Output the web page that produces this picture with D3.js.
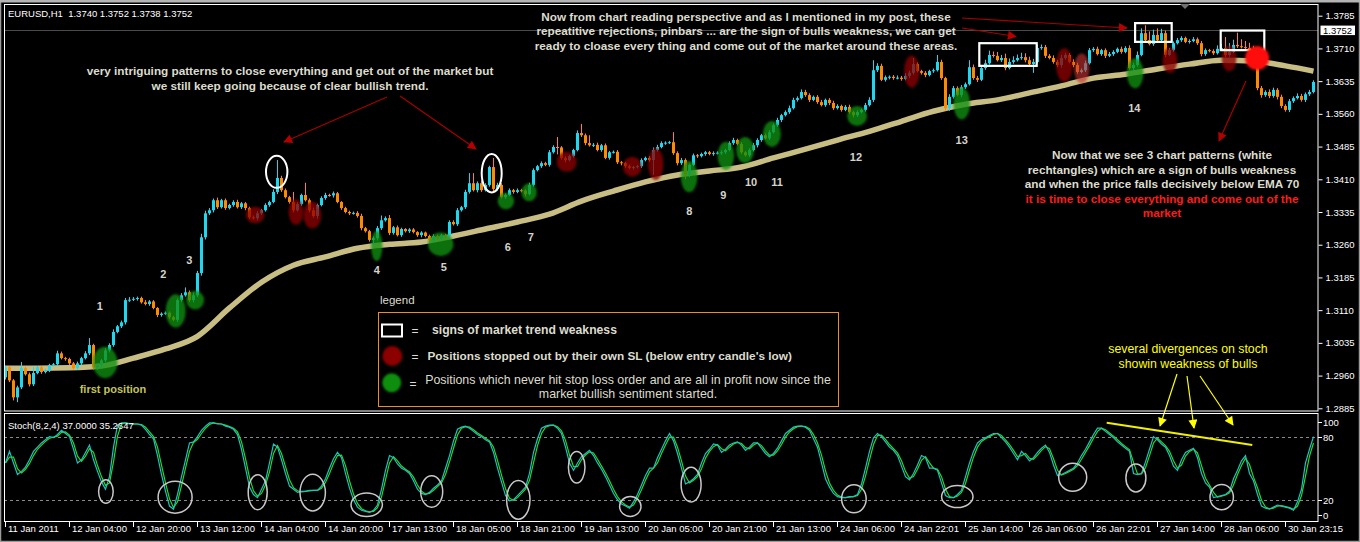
<!DOCTYPE html>
<html><head><meta charset="utf-8">
<script src="https://cdn.jsdelivr.net/npm/d3@7"></script>
<style>html,body{margin:0;padding:0;background:#000;}svg{display:block;}</style>
</head><body>
<svg id="c" width="1360" height="542"></svg>
<script>
// ---------------- DATA ----------------
const timeLabels = ["11 Jan 2011","12 Jan 04:00","12 Jan 20:00","13 Jan 12:00","14 Jan 04:00","14 Jan 20:00","17 Jan 13:00","18 Jan 05:00","18 Jan 21:00","19 Jan 13:00","20 Jan 05:00","20 Jan 21:00","21 Jan 13:00","24 Jan 06:00","24 Jan 22:01","25 Jan 14:00","26 Jan 06:00","26 Jan 22:01","27 Jan 14:00","28 Jan 06:00","30 Jan 23:15"];
const priceTicks = [1.3785,1.3710,1.3635,1.3560,1.3485,1.3410,1.3335,1.3260,1.3185,1.3110,1.3035,1.2960,1.2885];
const stochLevels = [80,20];
const stochTickLabels = [100,80,20,0];
const bidPrice = 1.3752;
const firstOpen = 12956;               // price x 10000
const closes = [                        // price x 10000, one per H1 bar
12979,12949,12910,12933,12977,12963,12940,12966,12979,12968,12972,12984,12986,13011,13000,12998,
12988,12977,12988,13000,13011,13030,12979,12984,12995,13018,13030,13060,13073,13082,13133,13134,
13136,13138,13128,13124,13130,13115,13099,13102,13104,13094,13088,13133,13144,13151,13133,13144,
13195,13277,13332,13339,13362,13346,13362,13344,13351,13358,13346,13355,13344,13323,13321,13332,
13339,13351,13358,13381,13413,13385,13369,13358,13339,13353,13374,13362,13339,13326,13351,13367,
13374,13373,13378,13358,13344,13335,13332,13333,13326,13298,13291,13271,13275,13298,13316,13321,
13287,13300,13282,13296,13291,13295,13289,13282,13288,13280,13271,13280,13275,13282,13280,13312,
13307,13339,13346,13381,13401,13385,13401,13385,13397,13438,13388,13397,13369,13374,13385,13381,
13385,13384,13376,13397,13431,13440,13447,13443,13472,13484,13483,13459,13454,13463,13477,13516,
13511,13493,13488,13489,13477,13488,13459,13472,13473,13449,13447,13440,13436,13438,13440,13454,
13459,13454,13477,13484,13493,13494,13495,13470,13447,13454,13420,13443,13465,13463,13468,13472,
13468,13470,13471,13472,13477,13493,13500,13491,13472,13465,13477,13488,13500,13511,13504,13518,
13534,13546,13557,13564,13573,13592,13596,13610,13603,13592,13599,13587,13580,13592,13585,13573,
13578,13569,13576,13564,13557,13564,13569,13580,13592,13660,13670,13638,13644,13645,13642,13643,
13640,13647,13654,13674,13658,13654,13649,13658,13660,13679,13642,13573,13599,13619,13603,13621,
13628,13667,13642,13638,13665,13676,13695,13693,13683,13688,13665,13679,13683,13688,13690,13683,
13674,13679,13711,13713,13693,13688,13679,13672,13688,13695,13679,13672,13656,13660,13676,13706,
13709,13697,13706,13693,13697,13702,13709,13702,13711,13665,13672,13695,13745,13729,13720,13741,
13729,13745,13695,13706,13722,13729,13734,13725,13727,13731,13722,13697,13706,13704,13699,13709,
13711,13695,13702,13718,13715,13713,13711,13706,13702,13619,13603,13610,13601,13615,13599,13578,
13569,13589,13596,13601,13592,13605,13610,13633];
const upperWick = [                     // pips above body
4,3,3,4,14,3,4,14,3,3,4,3,3,6,4,3, 3,3,4,3,5,16,3,4,3,5,4,6,3,4,5,6,
4,3,3,5,3,3,2,3,3,3,3,4,5,11,4,6, 5,8,6,5,4,6,3,4,3,4,5,3,3,3,4,5,
3,4,3,6,41,5,4,3,23,4,3,28,4,6,3,4, 5,3,4,3,2,3,3,3,4,5,3,3,4,5,11,4,
7,3,4,3,2,3,3,2,3,2,3,4,3,3,3,4, 4,5,3,5,23,23,4,6,4,3,21,5,4,3,4,3,
4,3,3,5,4,3,4,3,5,4,23,3,4,3,3,6, 21,4,18,4,5,3,4,3,3,4,3,3,4,3,3,4,
3,4,6,5,4,3,3,23,4,5,4,3,4,3,3,3, 3,4,3,4,3,4,5,3,4,3,4,5,4,3,4,5,
4,5,3,4,6,5,4,6,5,4,3,4,5,3,4,5, 4,3,4,5,3,4,3,5,6,23,6,5,4,3,4,5,
4,6,5,14,4,3,4,3,4,16,5,3,6,5,4,5, 4,16,6,5,6,8,10,8,9,7,10,8,9,8,10,9,
8,7,8,6,5,4,6,5,7,5,4,6,5,4,6,5, 4,5,3,4,5,4,3,5,4,6,5,8,11,18,20,12,
15,10,6,5,4,5,4,3,4,5,4,5,4,3,4,8, 10,25,20,12,28,16,14,12,10,4,5,4,6,5,4,5,
4,5,4,6,5,4,5,4];
const lowerWick = [                     // pips below body
5,4,7,11,4,3,5,4,3,4,3,4,3,4,3,4, 4,3,3,4,3,4,5,6,5,4,5,4,3,4,5,4,
3,4,3,3,4,3,5,4,3,4,3,5,4,3,4,5, 4,6,5,4,5,4,3,4,3,4,3,4,5,4,3,5,
4,3,4,3,5,4,3,4,5,3,4,3,5,4,6,3, 4,3,5,3,4,3,4,3,4,5,3,4,12,5,4,3,
5,4,3,4,3,4,3,4,5,3,4,5,4,3,4,4, 3,4,3,4,4,3,5,4,3,4,5,4,3,4,3,4,
3,4,5,3,4,3,4,3,4,3,16,4,5,3,4,3, 4,5,3,4,3,4,3,4,3,4,5,4,3,4,3,4,
3,4,34,4,3,4,3,4,5,4,10,5,3,4,3,4, 3,4,3,5,4,3,4,3,4,3,4,3,5,4,3,4,
3,4,5,3,4,3,4,3,4,5,3,4,3,4,5,4, 3,4,3,4,5,4,3,4,3,5,4,3,4,5,4,3,
4,3,5,4,3,4,5,3,4,3,4,5,6,4,3,5, 4,3,4,5,3,4,3,4,3,4,5,3,4,3,4,5,
4,20,3,4,5,3,4,5,6,4,3,5,4,3,4,3, 4,3,4,5,3,4,3,4,3,4,5,4,3,4,3,4,
3,4,5,3,4,3,4,3,4,3,4,5,4,3,4,3, 4,5,4,3,4,3,4,3,4,5,6,4,5,4,6,5,
4,5,4,3,4,5,4,3];
const emaBars = [0,8,16,24,32,40,48,56,64,72,80,88,96,104,112,120,128,136,144,152,160,168,176,184,192,200,208,216,224,232,240,248,256,264,272,280,288,296,304,312,320,327];
const ema70 = [12977,12977,12978,12982,13000,13021,13050,13115,13174,13213,13232,13252,13261,13266,13280,13296,13312,13330,13360,13383,13404,13420,13429,13438,13459,13479,13500,13520,13543,13566,13582,13592,13608,13624,13642,13651,13663,13674,13683,13681,13670,13658];
const stochMain = [
55,66,55,44,47,51,58,66,70,74,77,80,79,82,86,83, 80,68,55,58,65,72,58,47,37,30,42,70,91,93,93,92,
92,92,91,87,82,78,62,44,28,14,11,25,42,58,74,75, 80,86,90,93,93,92,92,90,89,87,82,68,50,32,25,22,
30,38,55,73,70,58,45,33,30,27,28,28,29,29,29,33, 40,50,59,65,60,45,31,20,13,10,9,8,10,15,30,48,
62,60,54,50,48,45,38,30,26,25,27,31,34,38,50,62, 76,87,89,90,88,85,82,80,77,75,65,50,37,24,19,20,
24,28,32,45,65,78,88,90,91,91,88,83,70,55,48,55, 61,64,67,62,55,49,42,34,26,20,16,14,12,18,25,34,
43,50,50,60,68,76,83,76,64,50,35,37,40,44,55,64, 68,73,72,65,68,72,74,75,72,67,70,74,74,69,64,61,
64,69,76,83,86,89,90,90,89,86,78,70,55,40,32,26, 23,22,22,23,23,25,35,50,66,79,83,80,75,70,67,62,
52,42,39,45,53,62,60,50,50,48,36,24,22,22,25,29, 42,55,66,74,77,79,81,83,83,79,75,70,64,58,66,62,
57,60,65,69,72,65,53,43,44,46,48,50,55,62,68,75, 82,88,88,85,82,79,75,72,69,66,45,44,45,56,68,80,
77,73,70,62,52,48,58,65,67,69,60,45,36,32,22,23, 24,25,28,40,48,57,62,45,38,25,14,12,11,13,15,14,
13,12,10,18,30,55,68,80];
const stochDPeriod = 2;

// annotation anchors in data space: [bar, price, rx, ry]
const greenMarks = [[24.9,1.2990,12.3,15.7],[42.55,1.3108,10,16.7],[47.4,1.3133,9,9.3],[92.8,1.3257,5.7,15],[108.8,1.3261,12.7,11.7],[125.1,1.3360,8.3,8.3],[130.9,1.3380,7.7,9],[170.9,1.3416,8.3,15.7],[180.1,1.3464,8.3,14],[184.9,1.3477,9,13],[191.6,1.3514,9,13],[212.9,1.3555,10,10],[239.05,1.3584,8.3,16],[282.4,1.3653,8.3,15]];
const redMarks = [[62.4,1.3328,9.3,8.3],[72.6,1.3335,7.3,12.7],[76.7,1.3328,9,13.3],[140.3,1.3450,10,10],[156.7,1.3439,9.3,10],[162.55,1.3445,7.7,16],[226.55,1.3657,7.7,16],[264.7,1.3672,8.3,16.7],[269.05,1.3664,7.7,15],[291.1,1.3683,7.3,12.7],[305.9,1.3687,7.3,12.7]];
const whiteRings = [[67.8,1.3427,10.7,16],[121.55,1.3424,10,19.3]];
const weakBoxes = [[243.45,257.8,1.3722,1.3670],[282.4,291.55,1.3768,1.3725],[303.8,314.7,1.3751,1.3706]];
const entryLabels = [["1",23.6,1.3119],["2",39.45,1.3194],["3",45.95,1.3225],["4",92.8,1.3202],["5",109.6,1.3209],["6",125.55,1.3255],["7",131.3,1.3278],["8",170.95,1.3338],["9",179.45,1.3374],["10",186.4,1.3404],["11",192.9,1.3404],["12",212.6,1.3461],["13",239.05,1.3500],["14",282.2,1.3573]];
const exitDot = [312.9,1.3688,12];
const stochRings = [[25.1,27.8,7.3,11.7],[42.4,22.5,17,16],[63.05,27.2,9.5,17.5],[76.8,26.8,12.7,18.3],[90.3,15.2,15.7,11.7],[106.55,27.8,11,15.7],[128.2,19.9,11.7,19.3],[142.8,50.9,8.3,15.7],[156.2,13.6,10.7,10],[171.4,34.4,10,17.3],[212.1,20.9,12.3,14],[237.95,23.0,15.7,11],[266.8,41.4,14,14],[282.6,40.8,10,14],[304.05,22.5,11.7,12.7]];
const divergenceLine = [[275.3,93.2],[311.7,72.0]];

// ---------------- DRAW ----------------
const W = 1360, H = 542;
const FONT = "'Liberation Sans', Arial, sans-serif";
const svg = d3.select('#c');
const defs = svg.append('defs');
defs.append('filter').attr('id','soft').attr('x','-30%').attr('y','-30%').attr('width','160%').attr('height','160%')
  .append('feGaussianBlur').attr('stdDeviation',0.9);
function marker(id,color,w,h){
  defs.append('marker').attr('id',id).attr('viewBox','0 0 10 10').attr('refX',9).attr('refY',5)
    .attr('markerWidth',w).attr('markerHeight',h).attr('markerUnits','userSpaceOnUse').attr('orient','auto')
    .append('path').attr('d','M0,0L10,5L0,10z').attr('fill',color);
}
marker('arrRed','#b30000',13,9);
marker('arrYel','#ffff00',11,9);

svg.append('rect').attr('width',W).attr('height',H).attr('fill','#000');

const x = d3.scaleLinear().domain([0,1]).range([5.5,9.5]);
const y = d3.scaleLinear().domain([1.2885,1.3785]).range([408.3,15.7]);
const ys = d3.scaleLinear().domain([0,100]).range([520.8,415.6]);
const P = v => v/10000;

defs.append('clipPath').attr('id','mainClip').append('rect').attr('x',4.5).attr('y',4.5).attr('width',1313.5).attr('height',406);
defs.append('clipPath').attr('id','stochClip').append('rect').attr('x',4.5).attr('y',414).attr('width',1313.5).attr('height',107.5);

const main = svg.append('g').attr('clip-path','url(#mainClip)');

// bid line
main.append('line').attr('x1',4).attr('x2',1318).attr('y1',Math.round(y(bidPrice))+0.5).attr('y2',Math.round(y(bidPrice))+0.5)
  .attr('stroke','#4a4a4a').attr('stroke-width',1);

// EMA 70
const emaData = emaBars.map((b,k)=>({b, v:P(ema70[k])}));
main.append('path').datum(emaData)
  .attr('d', d3.line().x(d=>x(d.b)).y(d=>y(d.v)).curve(d3.curveMonotoneX))
  .attr('fill','none').attr('stroke','#c8be84').attr('stroke-width',5.5).attr('stroke-linejoin','round');

// candles
const bars = closes.map((c,i)=>{
  const o = i===0 ? firstOpen : closes[i-1];
  const top = Math.max(o,c), bot = Math.min(o,c);
  return {i, o:P(o), c:P(c), h:P(top+(upperWick[i]??3)), l:P(bot-(lowerWick[i]??3))};
});
const colorOf = d => d.c>d.o ? '#1fd8f0' : (d.c<d.o ? '#ff8a00' : '#ffff00');
const cg = main.append('g');
cg.selectAll('line.w').data(bars).join('line').attr('class','w')
  .attr('x1',d=>x(d.i)).attr('x2',d=>x(d.i)).attr('y1',d=>y(d.h)).attr('y2',d=>y(d.l))
  .attr('stroke',colorOf).attr('stroke-width',1);
cg.selectAll('rect.b').data(bars).join('rect').attr('class','b')
  .attr('x',d=>x(d.i)-1.5).attr('width',3)
  .attr('y',d=>y(Math.max(d.o,d.c)))
  .attr('height',d=>Math.max(1,Math.abs(y(d.o)-y(d.c))))
  .attr('fill',colorOf);

// green / red position marks
main.append('g').selectAll('ellipse').data(greenMarks).join('ellipse')
  .attr('cx',d=>x(d[0])).attr('cy',d=>y(d[1])).attr('rx',d=>d[2]).attr('ry',d=>d[3])
  .attr('fill','#0b8f0b').attr('fill-opacity',0.78).attr('filter','url(#soft)');
main.append('g').selectAll('ellipse').data(redMarks).join('ellipse')
  .attr('cx',d=>x(d[0])).attr('cy',d=>y(d[1])).attr('rx',d=>d[2]).attr('ry',d=>d[3])
  .attr('fill',(d,k)=>k===8?'#c83232':'#8c0000').attr('fill-opacity',(d,k)=>k===8?0.62:0.78).attr('filter','url(#soft)');
main.append('g').selectAll('ellipse').data(whiteRings).join('ellipse')
  .attr('cx',d=>x(d[0])).attr('cy',d=>y(d[1])).attr('rx',d=>d[2]).attr('ry',d=>d[3])
  .attr('fill','none').attr('stroke','#ffffff').attr('stroke-width',2);
main.append('g').selectAll('rect').data(weakBoxes).join('rect')
  .attr('x',d=>x(d[0])).attr('width',d=>x(d[1])-x(d[0]))
  .attr('y',d=>y(d[2])).attr('height',d=>y(d[3])-y(d[2]))
  .attr('fill','none').attr('stroke','#ffffff').attr('stroke-width',2.2);
main.append('circle').attr('cx',x(exitDot[0])).attr('cy',y(exitDot[1])).attr('r',exitDot[2])
  .attr('fill','#ff0a0a').attr('filter','url(#soft)');
main.append('g').selectAll('text').data(entryLabels).join('text')
  .attr('x',d=>x(d[1])).attr('y',d=>y(d[2])+4).attr('text-anchor','middle')
  .attr('font-family',FONT).attr('font-size',11).attr('font-weight','bold').attr('fill','#d4d4cc').text(d=>d[0]);

// ------------- text helpers -------------
function txt(xp,yp,s,o={}){
  return svg.append('text').attr('x',xp).attr('y',yp).attr('font-family',o.family||FONT)
    .attr('font-size',o.size||11.75).attr('font-weight',o.weight||'bold').attr('fill',o.fill||'#dcdcce')
    .attr('text-anchor',o.anchor||'middle').attr('xml:space','preserve').text(s);
}
function arrow(x1,y1,x2,y2,col,mk){
  svg.append('line').attr('x1',x1).attr('y1',y1).attr('x2',x2).attr('y2',y2)
    .attr('stroke',col).attr('stroke-width',1.2).attr('marker-end',`url(#${mk})`);
}

txt(113,393,'first position',{fill:'#c3c35a',size:11});
txt(290,75,'very intriguing patterns to close everything and get out of the market but');
txt(290,89.5,'we still keep going because of clear bullish trend.');
arrow(387,97,284,142,'#a80000','arrRed');
arrow(400,96,476,149,'#a80000','arrRed');

txt(746,20.5,'Now from chart reading perspective and as I mentioned in my post, these');
txt(746,35,'repeatitive rejections, pinbars ... are the sign of bulls weakness, we can get');
txt(746,49.5,'ready to cloase every thing and come out of the market around these areas.');
arrow(962,18,1127,28,'#a80000','arrRed');
arrow(962,28,1016,36.5,'#a80000','arrRed');

txt(1162,159,'Now that we see 3 chart patterns (white');
txt(1162,173.5,'rechtangles) which are a sign of bulls weakness');
txt(1162,188,'and when the price falls decisively below EMA 70');
txt(1162,202.5,'it is time to close everything and come out of the',{fill:'#ff1a1a'});
txt(1162,217,'market',{fill:'#ff1a1a'});
arrow(1246,81,1219,141,'#a80000','arrRed');

// legend
txt(380,303.5,'legend',{anchor:'start',weight:'normal',size:11.5});
svg.append('rect').attr('x',378.5).attr('y',312.5).attr('width',460).attr('height',94).attr('fill','#000').attr('stroke','#f08a30').attr('stroke-width',1);
svg.append('rect').attr('x',382).attr('y',324.5).attr('width',20).attr('height',12).attr('fill','none').attr('stroke','#fff').attr('stroke-width',2);
svg.append('circle').attr('cx',392.3).attr('cy',356).attr('r',10).attr('fill','#8c0000').attr('filter','url(#soft)');
svg.append('circle').attr('cx',391.7).attr('cy',382.7).attr('r',9.5).attr('fill','#0b8f0b').attr('filter','url(#soft)');
txt(415,334.5,'=',{weight:'normal',size:12});
txt(415,360.5,'=',{weight:'normal',size:12});
txt(413,387.5,'=',{weight:'normal',size:12});
txt(432,334.3,'signs of market trend weakness',{anchor:'start',size:12.2});
txt(427.5,360,"Positions stopped out by their own SL (below entry candle's low)",{anchor:'start',size:11.8});
txt(628,384.3,'Positions which never hit stop loss order and are all in profit now since the',{weight:'normal',size:12.4});
txt(628,398.3,'market bullish sentiment started.',{weight:'normal',size:12.4});

// stoch annotation
txt(1188,353,'several divergences on stoch',{weight:'normal',fill:'#ffff00',size:12.3});
txt(1188,367.5,'showin weakness of bulls',{weight:'normal',fill:'#ffff00',size:12.3});

// ---------------- STOCH PANEL ----------------
const st = svg.append('g').attr('clip-path','url(#stochClip)');
stochLevels.forEach(v=>{
  st.append('line').attr('x1',4).attr('x2',1318).attr('y1',Math.round(ys(v))+0.5).attr('y2',Math.round(ys(v))+0.5)
    .attr('stroke','#8a8a8a').attr('stroke-dasharray','3,3');
});
const kData = stochMain.map((v,i)=>({i,v}));
const dData = stochMain.map((v,i)=>{
  const s = stochMain.slice(Math.max(0,i-stochDPeriod+1), i+1);
  return {i, v: d3.mean(s)};
});
const sl = d3.line().x(d=>x(d.i)).y(d=>ys(d.v));
st.append('path').datum(dData).attr('d',sl).attr('fill','none').attr('stroke','#28d828').attr('stroke-width',1.2);
st.append('path').datum(kData).attr('d',sl).attr('fill','none').attr('stroke','#20c0c0').attr('stroke-width',1.2);
st.append('g').selectAll('ellipse').data(stochRings).join('ellipse')
  .attr('cx',d=>x(d[0])).attr('cy',d=>ys(d[1])).attr('rx',d=>d[2]).attr('ry',d=>d[3])
  .attr('fill','none').attr('stroke','#c8c8c8').attr('stroke-width',1.5);
st.append('line').attr('x1',x(divergenceLine[0][0])).attr('y1',ys(divergenceLine[0][1]))
  .attr('x2',x(divergenceLine[1][0])).attr('y2',ys(divergenceLine[1][1])).attr('stroke','#f0f000').attr('stroke-width',2);

arrow(1177,374,1160,426,'#ffff00','arrYel');
arrow(1187,376,1194,428,'#ffff00','arrYel');
arrow(1200,376,1233,425,'#ffff00','arrYel');

// ---------------- FRAMES & AXES ----------------
svg.append('rect').attr('x',4.5).attr('y',4.5).attr('width',1313.5).attr('height',406.5).attr('fill','none').attr('stroke','#fff');
svg.append('rect').attr('x',4.5).attr('y',413.5).attr('width',1313.5).attr('height',108).attr('fill','none').attr('stroke','#fff');
svg.append('rect').attr('x',0.5).attr('y',0.5).attr('width',W-1).attr('height',H-1).attr('fill','none').attr('stroke','#9a9a9a').attr('stroke-width',1.5);
svg.append('rect').attr('x',0).attr('y',0).attr('width',W).attr('height',2.5).attr('fill','#b4b4b4');

const yAxis = d3.axisRight(y).tickValues(priceTicks).tickFormat(d3.format('.4f')).tickSize(4).tickPadding(3);
const ya = svg.append('g').attr('transform','translate(1318.5,0)').call(yAxis);
ya.select('.domain').remove();
ya.selectAll('line').attr('stroke','#fff');
ya.selectAll('text').attr('fill','#fff').attr('font-family',FONT).attr('font-size',9.5);

svg.append('rect').attr('x',1320.5).attr('y',y(bidPrice)-4.5).attr('width',34.5).attr('height',9.5).attr('fill','#fff');
svg.append('text').attr('x',1323).attr('y',y(bidPrice)+3.5).attr('font-family',FONT).attr('font-size',9.5).attr('fill','#000').text(d3.format('.4f')(bidPrice));

const stPos = {100: ys(100)+6, 80: ys(80), 20: ys(20), 0: ys(0)-6};
stochTickLabels.forEach(v=>{
  const yy = Math.round(stPos[v])+0.5;
  svg.append('line').attr('x1',1318).attr('x2',1322).attr('y1',yy).attr('y2',yy).attr('stroke','#fff');
  svg.append('text').attr('x',1323).attr('y',yy+3.5).attr('font-family',FONT).attr('font-size',9.5).attr('fill','#fff').text(v);
});

const tickBars = timeLabels.map((s,k)=>k*16);
const xAxis = d3.axisBottom(x).tickValues(tickBars).tickFormat((d,k)=>timeLabels[k]).tickSize(5).tickPadding(3);
const xa = svg.append('g').attr('transform','translate(0,522)').call(xAxis);
xa.select('.domain').remove();
xa.selectAll('line').attr('stroke','#fff').attr('transform','translate(-0.5,0)');
xa.selectAll('text').attr('fill','#fff').attr('font-family',FONT).attr('font-size',9.5)
  .attr('text-anchor','start').attr('dx',2).attr('dy','0.2em');

svg.append('text').attr('x',8).attr('y',16.5).attr('font-family',FONT).attr('font-size',9.5).attr('fill','#fff')
  .attr('xml:space','preserve').text('EURUSD,H1  1.3740 1.3752 1.3738 1.3752');
svg.append('text').attr('x',8).attr('y',429).attr('font-family',FONT).attr('font-size',9.5).attr('fill','#fff')
  .text('Stoch(8,2,4) 37.0000 35.2647');
svg.append('path').attr('d','M1180,4L1190,4L1185,9Z').attr('fill','#707070');
</script>
</body></html>
